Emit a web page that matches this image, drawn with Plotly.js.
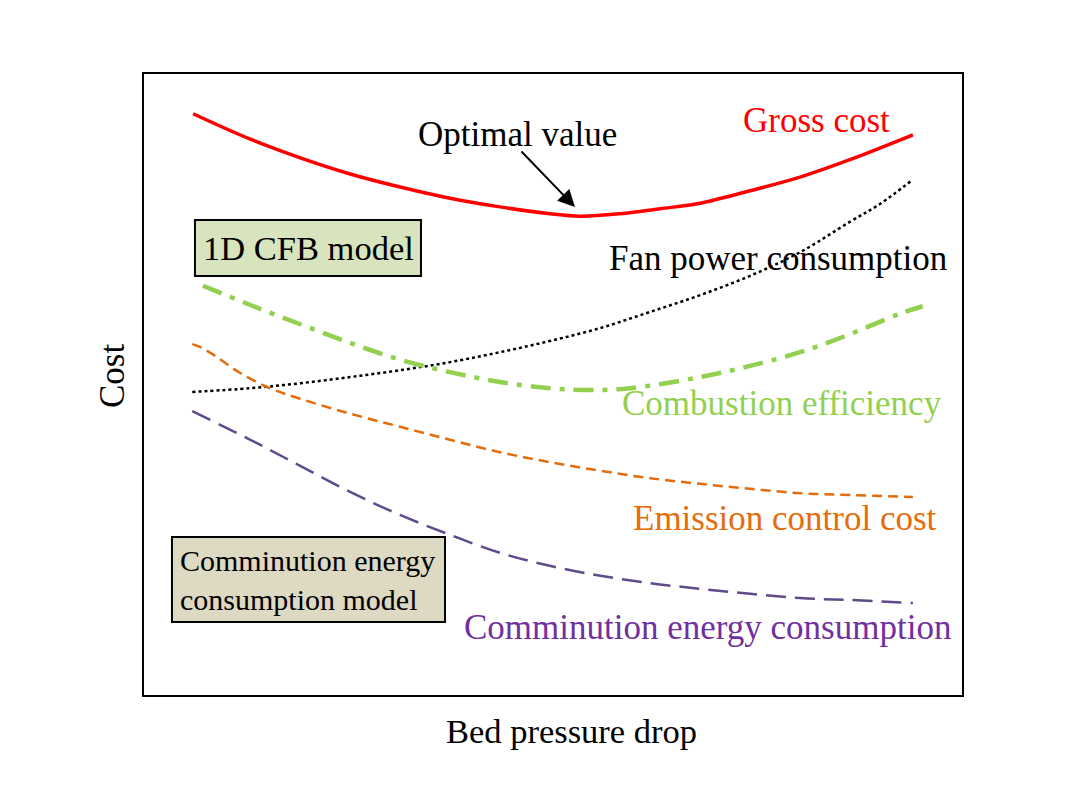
<!DOCTYPE html>
<html>
<head>
<meta charset="utf-8">
<script src="https://cdn.plot.ly/plotly-3.0.1.min.js"></script>
<style>html,body{margin:0;padding:0;background:#fff;}#chart{width:1070px;height:804px;}</style>
</head>
<body>
<div id="chart"></div>
<script>
// Data (arbitrary units, x: 0-100, y: 0-100)
const grossX = [6.0, 13.0, 19.1, 25.2, 31.3, 37.4, 43.5, 49.6, 53.3, 58.2, 63.1, 68.0, 74.1, 80.2, 86.3, 94.0];
const grossY = [93.6, 89.5, 86.5, 83.9, 81.8, 80.0, 78.6, 77.5, 77.1, 77.5, 78.3, 79.2, 81.2, 83.4, 86.2, 90.2];

const fanX = [5.9, 13.0, 19.1, 25.2, 31.3, 37.4, 43.5, 49.6, 55.8, 61.9, 68.0, 74.1, 80.2, 86.3, 90.0, 93.9];
const fanY = [48.8, 49.4, 50.2, 51.2, 52.3, 53.6, 55.2, 57.0, 59.1, 61.7, 64.4, 67.5, 71.3, 76.2, 79.1, 82.9];

const combX = [7.2, 13.0, 19.1, 25.2, 31.3, 37.4, 43.5, 49.6, 54.5, 59.4, 68.0, 74.1, 80.2, 86.3, 92.4, 95.2];
const combY = [65.9, 62.8, 59.7, 56.7, 54.0, 52.0, 50.4, 49.4, 49.1, 49.4, 51.2, 53.0, 55.2, 58.1, 61.4, 62.6];

const emisX = [5.9, 6.9, 8.7, 11.7, 15.4, 19.1, 25.2, 31.3, 37.4, 43.5, 49.6, 55.8, 61.9, 68.0, 74.1, 80.2, 86.3, 94.0];
const emisY = [56.5, 56.0, 54.6, 51.9, 49.4, 47.7, 45.3, 43.2, 41.1, 39.1, 37.5, 36.1, 34.9, 34.0, 33.2, 32.5, 32.2, 31.9];

const commX = [5.9, 13.0, 19.1, 25.2, 31.3, 37.4, 43.5, 49.6, 55.8, 61.9, 68.0, 74.1, 80.2, 86.3, 94.0];
const commY = [45.7, 41.1, 36.9, 32.7, 29.0, 25.8, 22.9, 20.8, 19.2, 18.0, 17.1, 16.3, 15.6, 15.3, 14.8];

const seriesNames = ["Gross cost", "Fan power consumption", "Combustion efficiency", "Emission control cost", "Comminution energy consumption"];
const boxLabels = ["1D CFB model", "Comminution energy<br>consumption model"];
const xTitle = "Bed pressure drop";
const yTitle = "Cost";

const FONT = '"Liberation Serif", "Times New Roman", Times, serif';

const traces = [
  {x: grossX, y: grossY, name: seriesNames[0], mode: 'lines', line: {color: '#ff0000', width: 3.5, shape: 'spline'}},
  {x: fanX, y: fanY, name: seriesNames[1], mode: 'lines', line: {color: '#000000', width: 2.5, dash: 'dot', shape: 'spline'}},
  {x: combX, y: combY, name: seriesNames[2], mode: 'lines', line: {color: '#92d050', width: 4.5, dash: '20px,9px,5px,9px', shape: 'spline'}},
  {x: emisX, y: emisY, name: seriesNames[3], mode: 'lines', line: {color: '#e46c0a', width: 2.5, dash: '10px,6px', shape: 'spline'}},
  {x: commX, y: commY, name: seriesNames[4], mode: 'lines', line: {color: '#5f4b8b', width: 2.5, dash: '20px,9px', shape: 'spline'}}
];

function txt(text, x, y, color, size, extra) {
  return Object.assign({text: text, x: x, y: y, xref: 'paper', yref: 'paper', showarrow: false,
    font: {family: FONT, size: size, color: color}, xanchor: 'center', yanchor: 'middle'}, extra || {});
}

const layout = {
  width: 1070, height: 804,
  margin: {l: 144, r: 108, t: 74, b: 109},
  paper_bgcolor: '#ffffff', plot_bgcolor: '#ffffff',
  showlegend: false,
  font: {family: FONT, size: 35, color: '#000'},
  xaxis: {range: [0, 100], showgrid: false, zeroline: false, showticklabels: false, ticks: '',
    showline: true, mirror: true, linecolor: '#000', linewidth: 2},
  yaxis: {range: [0, 100], showgrid: false, zeroline: false, showticklabels: false, ticks: '',
    showline: true, mirror: true, linecolor: '#000', linewidth: 2},
  shapes: [
    {type: 'rect', xref: 'paper', yref: 'paper', x0: 0.0623, x1: 0.3386, y0: 0.6747, y1: 0.7649,
      fillcolor: '#d7e4bd', line: {color: '#000', width: 2}},
    {type: 'rect', xref: 'paper', yref: 'paper', x0: 0.0342, x1: 0.368, y0: 0.1176, y1: 0.2544,
      fillcolor: '#ddd9c3', line: {color: '#000', width: 2}}
  ],
  annotations: [
    txt(seriesNames[0], 0.8227, 0.9259, '#ff0000', 35),
    txt('Optimal value', 0.4572, 0.9018, '#000', 35),
    {text: '', x: 0.5269, y: 0.7858, xref: 'paper', yref: 'paper', showarrow: true,
      ax: -55, ay: -57, arrowhead: 2, arrowsize: 1.7, arrowwidth: 2, arrowcolor: '#000'},
    txt(seriesNames[1], 0.7751, 0.7037, '#000', 35),
    txt(seriesNames[2], 0.7800, 0.4686, '#92d050', 35),
    txt(seriesNames[3], 0.7836, 0.2850, '#e46c0a', 35),
    txt(seriesNames[4], 0.6883, 0.1079, '#7030a0', 35),
    txt(boxLabels[0], 0.2005, 0.7198, '#000', 34.5),
    txt(boxLabels[1], 0.0416, 0.1852, '#000', 30, {xanchor: 'left', align: 'left'}),
    txt(xTitle, 0.523, -0.058, '#000', 34.5),
    txt(yTitle, -0.0379, 0.5137, '#000', 35, {textangle: -90})
  ]
};

Plotly.newPlot('chart', traces, layout, {displayModeBar: false, staticPlot: true});
</script>
</body>
</html>
